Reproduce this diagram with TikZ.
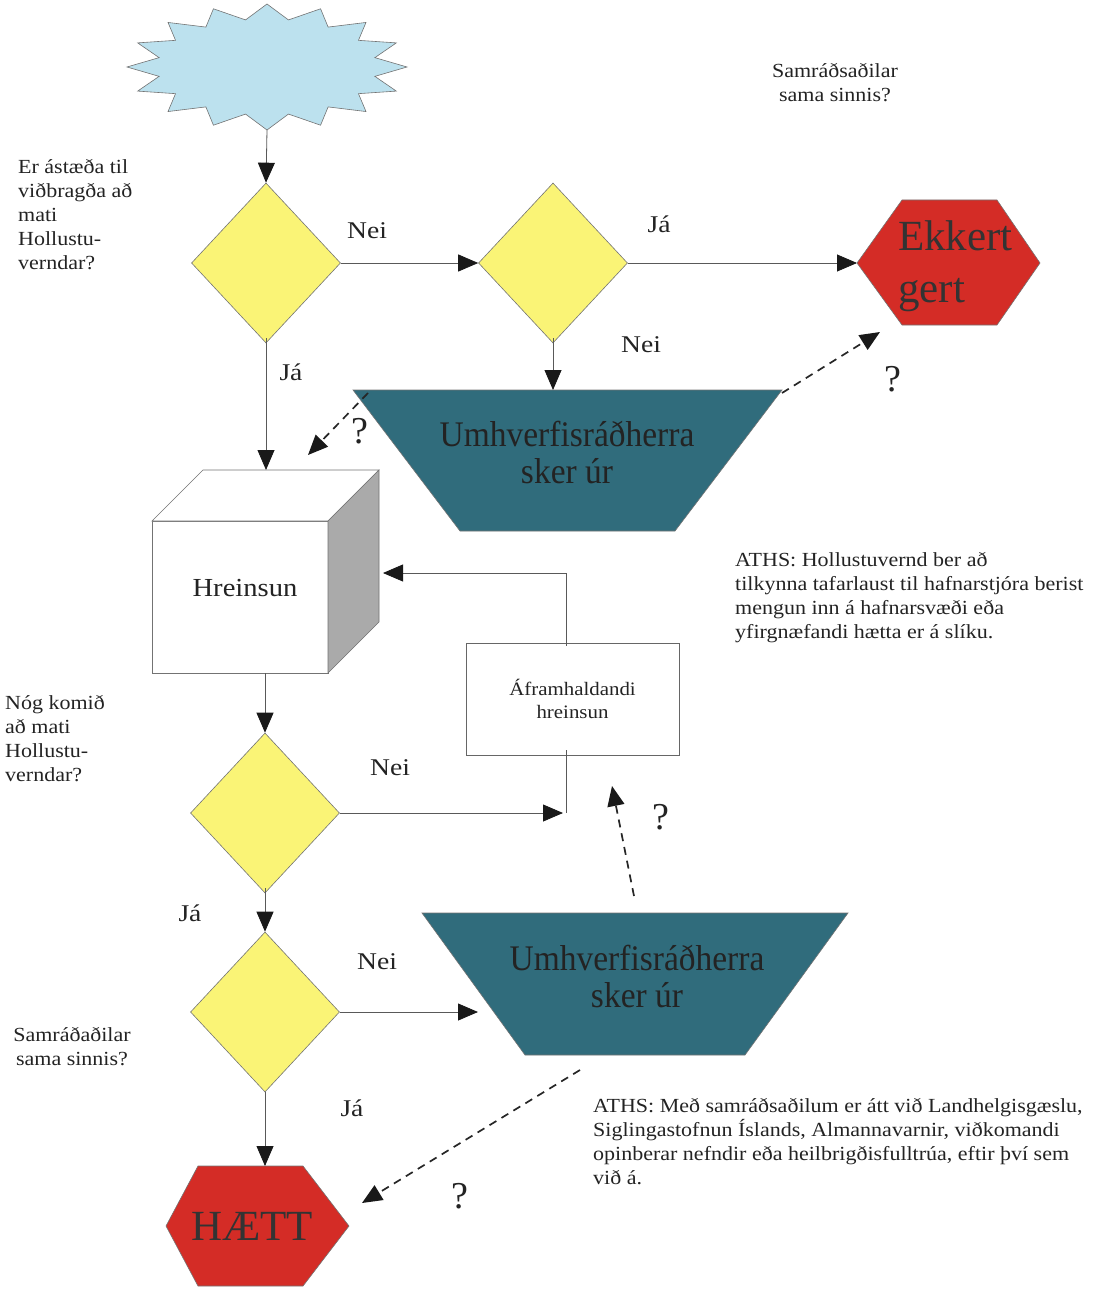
\documentclass[tikz,border=0pt]{standalone}
\usepackage{fontspec}
\setmainfont{Liberation Serif}
\newfontfamily\widefont[FakeStretch=1.1]{Liberation Serif}
\newfontfamily\labfont[FakeStretch=1.15]{Liberation Serif}
\newfontfamily\narrowfont[FakeStretch=0.93]{Liberation Serif}
\usetikzlibrary{arrows.meta,shapes.geometric}
\definecolor{starblue}{RGB}{188,225,238}
\definecolor{dyellow}{RGB}{250,244,118}
\definecolor{tealbox}{RGB}{48,108,124}
\definecolor{hexred}{RGB}{212,44,38}
\definecolor{sidegray}{RGB}{170,170,170}
\definecolor{txtdark}{RGB}{35,35,35}
\begin{document}
\begin{tikzpicture}[x=1pt,y=-1pt,
  conn/.style={draw=black!65, line width=0.8pt},
  arr/.style={conn, -{Triangle[length=20pt,width=17pt,color=black!90]}},
  darr/.style={draw=black!85, line width=1.7pt, dash pattern=on 8pt off 6pt, -{Triangle[length=20pt,width=17pt,color=black!90]}},
  dia/.style={diamond, draw=black!55, fill=dyellow, minimum width=149pt, minimum height=160pt, inner sep=0pt, line width=0.6pt},
  lbl/.style={font=\labfont\fontsize{24}{28}\selectfont, inner sep=0pt, text=txtdark},
  qm/.style={font=\fontsize{38}{40}\selectfont, inner sep=0pt, text=txtdark},
  note/.style={font=\widefont\fontsize{20}{24}\selectfont, align=left, inner sep=0pt, text=txtdark},
  big/.style={font=\narrowfont\fontsize{36}{37}\selectfont, align=center, inner sep=0pt, text=txtdark},
  huge/.style={font=\fontsize{43}{52}\selectfont, inner sep=0pt, text=black!80},
  shapeline/.style={draw=black!55, line width=0.6pt},
]
\useasboundingbox (0,0) rectangle (1093,1289);

% ---- starburst
\filldraw[shapeline, fill=starblue] (407,67)
  \foreach \k in {0,...,15}{
    -- ({267+110*cos(\k*22.5+11.25)},{67-48*sin(\k*22.5+11.25)})
    -- ({267+140*cos((\k+1)*22.5)},{67-63*sin((\k+1)*22.5)})
  } -- cycle;
\coordinate (starbot) at (267,130);

% ---- diamonds
\node[dia] (d1) at (266,263) {};
\node[dia] (d2) at (553,263) {};
\node[dia] (d3) at (265,813) {};
\node[dia] (d4) at (265,1012) {};

% ---- Ekkert gert hexagon
\filldraw[shapeline, fill=hexred] (857,263) -- (902,200) -- (997,200) -- (1040,263) -- (997,325) -- (902,325) -- cycle;
\coordinate (ekL) at (857,263);
\coordinate (ekB) at (880,332);
\node[huge, align=left, anchor=west] (ek) at (898,266) {Ekkert\\gert};

% ---- HAETT hexagon
\filldraw[shapeline, fill=hexred] (166,1226) -- (198,1166) -- (303,1166) -- (349,1226) -- (303,1286) -- (198,1286) -- cycle;
\coordinate (htTop) at (265,1166);
\coordinate (htR) at (362,1203);
\node[huge] (ht) at (252,1226) {HÆTT};

% ---- trapezium 1
\filldraw[shapeline, fill=tealbox] (353,390) -- (782,390) -- (675,531) -- (460,531) -- cycle;
\node[big] (u1) at (567,452) {Umhverfisráðherra\\sker úr};
\coordinate (u1top) at (553,390);
\coordinate (u1tl) at (368,393);
\coordinate (u1tr) at (782,393);

% ---- trapezium 2
\filldraw[shapeline, fill=tealbox] (422,913) -- (848,913) -- (745,1055) -- (525,1055) -- cycle;
\node[big] (u2) at (637,976) {Umhverfisráðherra\\sker úr};
\coordinate (u2L) at (478,1012);
\coordinate (u2top) at (634,896);
\coordinate (u2bl) at (580,1070);

% ---- cube
\filldraw[shapeline, fill=white] (152,521) rectangle (328,673);
\filldraw[shapeline, fill=white] (152,521) -- (203,470) -- (379,470) -- (328,521) -- cycle;
\filldraw[shapeline, fill=sidegray] (328,521) -- (379,470) -- (379,622) -- (328,673) -- cycle;
\node[inner sep=0pt, text=txtdark, font=\widefont\fontsize{26}{30}\selectfont] (hr) at (245,588) {Hreinsun};
\coordinate (cubeTop) at (266,470);
\coordinate (cubeBot) at (265,673);
\coordinate (cubeR) at (383,573);
\coordinate (cubeTL) at (308,455);

% ---- Aframhaldandi box
\node[draw=black!60, line width=0.6pt, minimum width=213pt, minimum height=112pt, align=center,
      font=\widefont\fontsize{19}{23}\selectfont, text=txtdark, inner sep=0pt] (afr) at (572.5,699) {Áframhaldandi\\hreinsun};
\coordinate (join) at (566,813);
\coordinate (joinTip) at (563,813);
\coordinate (afrArr) at (612,786);

% ---- solid connectors
\draw[arr] (starbot) -- (d1.north);
\draw[arr] (d1.east) -- (d2.west);
\draw[arr] (d2.east) -- (ekL);
\draw[arr] ([yshift=5pt]d2.south) -- (u1top);
\draw[arr] ([yshift=5pt]d1.south) -- (cubeTop);
\draw[arr] (cubeBot) -- (d3.north);
\draw[arr] ([xshift=-6.5pt,yshift=-3pt]afr.north) |- (cubeR);
\draw[conn] ([xshift=-6.5pt, yshift=5pt]afr.south) -- (join);
\draw[arr] (d3.east) -- (joinTip);
\draw[arr] ([yshift=5pt]d3.south) -- (d4.north);
\draw[arr] (d4.east) -- (u2L);
\draw[arr] (d4.south) -- (htTop);

% ---- dashed connectors
\draw[darr] (u1tr) -- (ekB);
\draw[darr] (u1tl) -- (cubeTL);
\draw[darr] (u2top) -- (afrArr);
\draw[darr] (u2bl) -- (htR);

% ---- labels
\node[lbl] (l1) at (367,231) {Nei};
\node[lbl] (l2) at (659,224) {Já};
\node[lbl] (l3) at (641,345) {Nei};
\node[lbl] (l4) at (291,372) {Já};
\node[lbl] (l5) at (390,768) {Nei};
\node[lbl] (l6) at (190,913) {Já};
\node[lbl] (l7) at (377,962) {Nei};
\node[lbl] (l8) at (352,1108) {Já};

\node[qm] (q1) at (893,379) {?};
\node[qm] (q2) at (360,431) {?};
\node[qm] (q3) at (661,817) {?};
\node[qm] (q4) at (460,1196) {?};

% ---- notes
\node[note, align=center] (n1) at (835,83) {Samráðsaðilar\\sama sinnis?};
\node[note, anchor=west] (n2) at (18,215) {Er ástæða til\\viðbragða að\\mati\\Hollustu-\\verndar?};
\node[note, anchor=west] (n3) at (5,739) {Nóg komið\\að mati\\Hollustu-\\verndar?};
\node[note, align=center] (n4) at (72,1047) {Samráðaðilar\\sama sinnis?};
\node[note, anchor=west] (n5) at (735,598) {ATHS: Hollustuvernd ber að\\tilkynna tafarlaust til hafnarstjóra berist\\mengun inn á hafnarsvæði eða\\yfirgnæfandi hætta er á slíku.};
\node[note, anchor=west] (n6) at (593,1142) {ATHS: Með samráðsaðilum er átt við Landhelgisgæslu,\\Siglingastofnun Íslands, Almannavarnir, viðkomandi\\opinberar nefndir eða heilbrigðisfulltrúa, eftir því sem\\við á.};
\end{tikzpicture}
\end{document}
